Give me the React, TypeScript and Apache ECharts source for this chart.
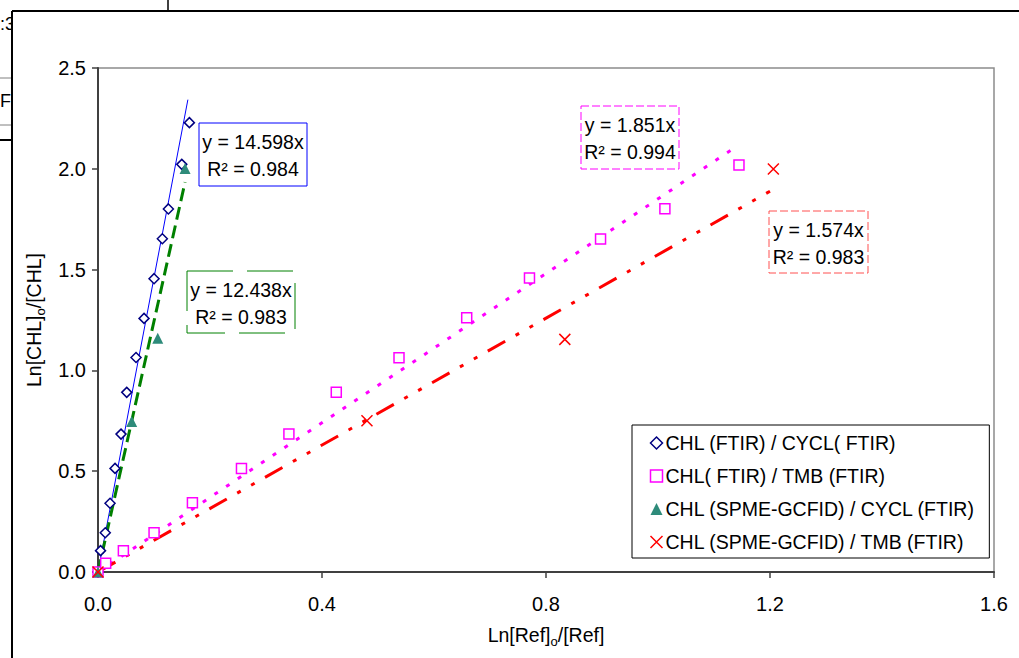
import React, { useEffect, useRef } from "react";
import * as echarts from "echarts";

// ---- data ----
const seriesNames = [
  "CHL (FTIR) / CYCL( FTIR)",
  "CHL( FTIR) / TMB (FTIR)",
  "CHL (SPME-GCFID) / CYCL (FTIR)",
  "CHL (SPME-GCFID) / TMB (FTIR)",
];

// CHL (FTIR) vs CYCL (FTIR)
const cyclX = [0, 0.0045, 0.013, 0.0215, 0.0304, 0.0411, 0.0513, 0.0679, 0.0822, 0.1001, 0.1149, 0.1257, 0.1496, 0.1632];
const cyclY = [0, 0.106, 0.195, 0.341, 0.514, 0.684, 0.891, 1.064, 1.258, 1.455, 1.653, 1.801, 2.022, 2.229];

// CHL (FTIR) vs TMB (FTIR)
const tmbX = [0, 0.0137, 0.0453, 0.1001, 0.1686, 0.2562, 0.3409, 0.4255, 0.5375, 0.6584, 0.7705, 0.8974, 1.0123, 1.1446];
const tmbY = [0, 0.043, 0.106, 0.195, 0.344, 0.514, 0.684, 0.891, 1.063, 1.261, 1.458, 1.652, 1.802, 2.019];

// CHL (SPME-GCFID) vs CYCL (FTIR)
const spmeCyclX = [0, 0.0602, 0.1067, 0.1555];
const spmeCyclY = [0, 0.746, 1.159, 2.002];

// CHL (SPME-GCFID) vs TMB (FTIR)
const spmeTmbX = [0, 0.4803, 0.8336, 1.206];
const spmeTmbY = [0, 0.75, 1.154, 1.999];

// linear trend lines through the origin (slope, x extent)
const trendSlopes = [14.598, 1.851, 12.438, 1.574];
const trendXMax = [0.1605, 1.143, 0.1555, 1.2];
const trendLabels = [
  "y = 14.598x\nR² = 0.984",
  "y = 1.851x\nR² = 0.994",
  "y = 12.438x\nR² = 0.983",
  "y = 1.574x\nR² = 0.983",
];

const xTicks = [0, 0.4, 0.8, 1.2, 1.6];
const yTicks = [0, 0.5, 1.0, 1.5, 2.0, 2.5];

const FONT = "'Liberation Sans', Arial, sans-serif";
const pair = (xs: number[], ys: number[]) => xs.map((x, i) => [x, ys[i]]);

export default function App() {
  const ref = useRef<HTMLDivElement>(null);

  useEffect(() => {
    document.body.style.margin = "0";
    if (!ref.current) return;
    const chart = echarts.init(ref.current, null, { renderer: "svg" });

    const trendColors = ["#0000FF", "#FF00FF", "#008000", "#FF0000"];
    const trendDash: any[] = ["solid", [4, 10], [13, 6], [20, 12, 4, 12, 4, 12]];
    const trendWidth = [1, 3, 3, 3];

    const trendSeries = trendSlopes.map((s, i) => ({
      type: "line",
      name: "trend" + i,
      data: [
        [0, 0],
        [trendXMax[i], s * trendXMax[i]],
      ],
      showSymbol: false,
      symbol: "none",
      silent: true,
      z: 1,
      lineStyle: { color: trendColors[i], width: trendWidth[i], type: trendDash[i], cap: "butt" },
    }));

    const boxes = [
      { x: 199, y: 123, w: 108, h: 63, color: "#0000FF", dash: null as any },
      { x: 581, y: 106, w: 98, h: 63, color: "#FF00FF", dash: [8, 3] },
      { x: 187, y: 271, w: 108, h: 62, color: "#008000", dash: [46, 14] },
      { x: 769, y: 211, w: 99, h: 62, color: "#FF5050", dash: [8, 3] },
    ];

    const boxGraphics: any[] = [];
    boxes.forEach((b, i) => {
      boxGraphics.push({
        type: "rect",
        shape: { x: b.x, y: b.y, width: b.w, height: b.h },
        style: { fill: "none", stroke: b.color, lineWidth: 1, lineDash: b.dash || undefined },
        z: 100,
      });
      boxGraphics.push({
        type: "text",
        x: b.x + b.w / 2,
        y: b.y + b.h / 2 + 1,
        style: {
          text: trendLabels[i],
          fontSize: 19.5,
          fontFamily: FONT,
          fill: "#000",
          align: "center",
          verticalAlign: "middle",
          lineHeight: 27,
        },
        z: 101,
      });
    });

    const frameGraphics: any[] = [
      { type: "text", x: 0, y: 24, style: { text: ":3", fontSize: 18, fontFamily: FONT, fill: "#000", verticalAlign: "middle" }, z: 50 },
      { type: "rect", shape: { x: 13, y: 12, width: 40, height: 40 }, style: { fill: "#fff" }, z: 51 },
      { type: "text", x: 0, y: 101, style: { text: "F", fontSize: 18, fontFamily: FONT, fill: "#000", verticalAlign: "middle" }, z: 50 },
      { type: "line", shape: { x1: 0, y1: 78, x2: 12, y2: 78 }, style: { stroke: "#808080", lineWidth: 1 }, z: 52 },
      { type: "line", shape: { x1: 0, y1: 125, x2: 12, y2: 125 }, style: { stroke: "#808080", lineWidth: 1 }, z: 52 },
      { type: "line", shape: { x1: 0, y1: 140, x2: 12, y2: 140 }, style: { stroke: "#000", lineWidth: 2 }, z: 52 },
      { type: "line", shape: { x1: 12, y1: 11, x2: 1019, y2: 11 }, style: { stroke: "#000", lineWidth: 2 }, z: 52 },
      { type: "line", shape: { x1: 12, y1: 11, x2: 12, y2: 658 }, style: { stroke: "#000", lineWidth: 2 }, z: 52 },
      { type: "line", shape: { x1: 168, y1: 0, x2: 168, y2: 11 }, style: { stroke: "#000", lineWidth: 1.5 }, z: 52 },
    ];

    const axisNameRich = {
      sub: { fontSize: 13, fontFamily: FONT, color: "#000", verticalAlign: "bottom", lineHeight: 13 },
    };

    chart.setOption({
      animation: false,
      backgroundColor: "#fff",
      textStyle: { fontFamily: FONT, color: "#000" },
      grid: {
        left: 98,
        right: 25,
        top: 68,
        bottom: 86,
        show: true,
        borderColor: "#8c8c8c",
        borderWidth: 1.5,
        backgroundColor: "#fff",
      },
      xAxis: {
        type: "value",
        min: xTicks[0],
        max: xTicks[xTicks.length - 1],
        interval: xTicks[1] - xTicks[0],
        axisLine: { show: true, onZero: false, lineStyle: { color: "#404040", width: 2 } },
        axisTick: { show: true, inside: false, length: 6, lineStyle: { color: "#404040", width: 1.5 } },
        splitLine: { show: false },
        axisLabel: { fontSize: 20, color: "#000", margin: 22, fontFamily: FONT, formatter: (v: number) => v.toFixed(1) },
        name: "Ln[Ref]{sub|o}/[Ref]",
        nameLocation: "middle",
        nameGap: 50,
        nameTextStyle: { fontSize: 19.5, color: "#000", fontFamily: FONT, lineHeight: 26, rich: axisNameRich },
      },
      yAxis: {
        type: "value",
        min: yTicks[0],
        max: yTicks[yTicks.length - 1],
        interval: yTicks[1] - yTicks[0],
        axisLine: { show: true, onZero: false, lineStyle: { color: "#404040", width: 2 } },
        axisTick: { show: true, inside: false, length: 6, lineStyle: { color: "#404040", width: 1.5 } },
        splitLine: { show: false },
        axisLabel: { fontSize: 20, color: "#000", margin: 12, fontFamily: FONT, formatter: (v: number) => v.toFixed(1) },
        name: "Ln[CHL]{sub|o}/[CHL]",
        nameLocation: "middle",
        nameRotate: 90,
        nameGap: 50,
        nameTextStyle: { fontSize: 19.5, color: "#000", fontFamily: FONT, lineHeight: 26, rich: axisNameRich },
      },
      legend: {
        data: seriesNames,
        orient: "vertical",
        left: 632,
        top: 425,
        padding: [8, 14, 6, 16],
        itemGap: 13,
        itemWidth: 12,
        itemHeight: 12,
        itemStyle: { borderWidth: "inherit" },
        borderColor: "#000",
        borderWidth: 1,
        backgroundColor: "#fff",
        textStyle: { fontSize: 19.5, color: "#000", fontFamily: FONT, lineHeight: 20, padding: [0, 0, 0, -2] },
        z: 20,
      },
      graphic: [...frameGraphics, ...boxGraphics],
      series: [
        ...trendSeries,
        {
          type: "scatter",
          name: seriesNames[0],
          data: pair(cyclX, cyclY),
          symbol: "diamond",
          symbolSize: 10,
          itemStyle: { color: "#fff", borderColor: "#000080", borderWidth: 1.5, opacity: 1 },
          z: 5,
        },
        {
          type: "scatter",
          name: seriesNames[1],
          data: pair(tmbX, tmbY),
          symbol: "rect",
          symbolSize: 10,
          itemStyle: { color: "#fff", borderColor: "#FF00FF", borderWidth: 1.5, opacity: 1 },
          z: 5,
        },
        {
          type: "scatter",
          name: seriesNames[2],
          data: pair(spmeCyclX, spmeCyclY),
          symbol: "triangle",
          symbolSize: 11,
          itemStyle: { color: "#2E8B7A", opacity: 1 },
          z: 6,
        },
        {
          type: "scatter",
          name: seriesNames[3],
          data: pair(spmeTmbX, spmeTmbY),
          symbol: "path://M0,0L10,10M10,0L0,10",
          symbolSize: 11,
          itemStyle: { color: "none", borderColor: "#FF0000", borderWidth: 1.5, opacity: 1 },
          z: 6,
        },
      ],
    });

    return () => chart.dispose();
  }, []);

  return <div ref={ref} style={{ width: 1019, height: 658 }} />;
}
